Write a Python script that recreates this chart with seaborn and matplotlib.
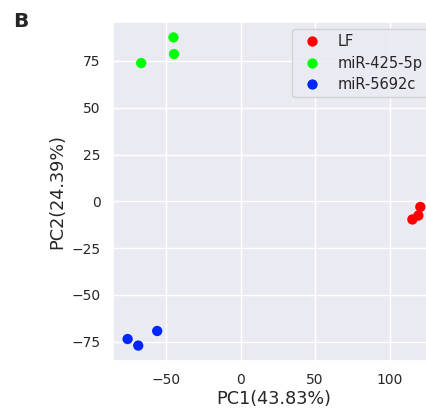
import pandas as pd
import seaborn as sns
import matplotlib.pyplot as plt

# PCA scores
groups = ["LF", "LF", "LF",
          "miR-425-5p", "miR-425-5p", "miR-425-5p",
          "miR-5692c", "miR-5692c", "miR-5692c"]
pc1 = [115.1, 119.1, 120.4, -66.5, -44.9, -44.5, -75.6, -68.5, -55.8]
pc2 = [-9.7, -7.6, -3.0, 73.9, 87.6, 78.7, -73.6, -77.1, -69.3]
colors = {"LF": "#ff0000", "miR-425-5p": "#00ff00", "miR-5692c": "#0026ff"}

df = pd.DataFrame({"group": groups, "PC1": pc1, "PC2": pc2})

sns.set_theme(style="darkgrid")
plt.rcParams['font.family'] = ['DejaVu Sans']

fig = plt.figure(figsize=(4.27, 4.12), dpi=100)
ax = fig.add_axes([0.2646, 0.1238, 0.754, 0.8228])

sns.scatterplot(data=df, x="PC1", y="PC2", hue="group", palette=colors,
                s=55, linewidth=0, ax=ax)

ax.set_xticks([-50, 0, 50, 100])
ax.set_yticks([-75, -50, -25, 0, 25, 50, 75])
ax.tick_params(axis="both", labelsize=10, length=0, pad=9)
ax.set_xlabel("PC1(43.83%)", fontsize=12.7, labelpad=2)
ax.set_ylabel("PC2(24.39%)", fontsize=12.7, labelpad=4)

leg = ax.legend(loc="upper right", fontsize=10.5, title=None,
                borderpad=0.33, labelspacing=0.45)

fig.text(0.03, 0.97, "B", fontsize=14.5, fontweight="bold", va="top", ha="left")

fig.savefig("out.png", dpi=100)
